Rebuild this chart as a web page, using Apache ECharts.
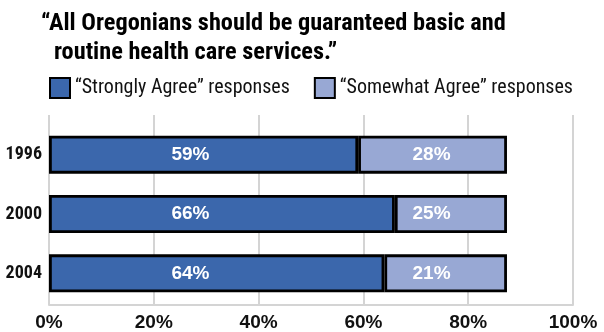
<!DOCTYPE html>
<html>
<head>
<meta charset="utf-8">
<script src="https://cdn.jsdelivr.net/npm/echarts@6/dist/echarts.min.js"></script>
<style>
html,body{margin:0;padding:0;background:#fff;}
#chart{width:604px;height:332px;}
</style>
</head>
<body>
<div id="chart"></div>
<script>
// ---- data ----
const years = ['1996', '2000', '2004'];
const stronglyAgree = [59, 66, 64];            // drawn & labelled
const somewhatAgreeDrawn = [28.4, 21.4, 23.4]; // segment lengths as drawn in the original
const somewhatAgreeLabel = [28, 25, 21];       // values printed on the segments
const xTicks = [0, 20, 40, 60, 80, 100];
const seriesNames = ['\u201CStrongly Agree\u201D responses', '\u201CSomewhat Agree\u201D responses'];
const titleLines = ['\u201CAll Oregonians should be guaranteed basic and', 'routine health care services.\u201D'];

// ---- label placement (style, axis units) ----
const labelPos = { strong: 27, somewhat: 73 };

const dark = '#3b67ac';
const light = '#98a8d4';
const narrow = '"Roboto Condensed", "DejaVu Sans Condensed", sans-serif';
const wide = '"Liberation Sans", Arial, sans-serif';

const chart = echarts.init(document.getElementById('chart'), null, { renderer: 'canvas' });

chart.setOption({
  animation: false,
  backgroundColor: '#ffffff',
  title: [
    { text: titleLines[0], left: 41, top: 12, padding: 0,
      textStyle: { fontFamily: narrow, fontWeight: 'bold', fontSize: 24.3, color: '#000' } },
    { text: titleLines[1], left: 54, top: 41, padding: 0,
      textStyle: { fontFamily: narrow, fontWeight: 'bold', fontSize: 24.3, color: '#000' } }
  ],
  legend: {
    left: 49, top: 77, padding: 0, width: 560,
    itemWidth: 20, itemHeight: 20, itemGap: 24,
    icon: 'rect',
    textStyle: { fontFamily: narrow, fontSize: 20, color: '#111' },
    data: seriesNames
  },
  grid: [
    { left: 49, right: 31, top: 125, bottom: 29, outerBoundsMode: 'none', containLabel: false },
    { left: 49, right: 31, top: 115, bottom: 27, outerBoundsMode: 'none', containLabel: false }
  ],
  xAxis: [
    { gridIndex: 0, type: 'value', min: 0, max: 100, show: false },
    { gridIndex: 1, type: 'value', min: 0, max: 100, interval: 20,
      axisLine: { show: true, lineStyle: { color: '#d4d4d4', width: 2 } },
      axisTick: { show: false },
      splitLine: { show: true, lineStyle: { color: '#d4d4d4', width: 2 } },
      axisLabel: { margin: 8, fontFamily: wide, fontWeight: 'bold', fontSize: 19, color: '#111',
        formatter: v => xTicks.includes(v) ? v + '%' : '' } }
  ],
  yAxis: [
    { gridIndex: 0, type: 'category', data: years, inverse: true,
      axisLine: { show: false }, axisTick: { show: false }, splitLine: { show: false },
      axisLabel: { margin: 7, fontFamily: narrow, fontWeight: 'bold', fontSize: 18, color: '#111' } },
    { gridIndex: 1, type: 'category', data: years, show: false }
  ],
  series: [
    { name: seriesNames[0], type: 'bar', stack: 'total', xAxisIndex: 0, yAxisIndex: 0,
      data: stronglyAgree, barWidth: 38,
      itemStyle: { color: dark, borderColor: '#000', borderWidth: 2.8 } },
    { name: seriesNames[1], type: 'bar', stack: 'total', xAxisIndex: 0, yAxisIndex: 0,
      data: somewhatAgreeDrawn, barWidth: 38,
      itemStyle: { color: light, borderColor: '#000', borderWidth: 2.8 } },
    { type: 'scatter', xAxisIndex: 0, yAxisIndex: 0, symbolSize: 0, silent: true, z: 5,
      itemStyle: { opacity: 1 },
      data: years.map((y, i) => [labelPos.strong, y, stronglyAgree[i]]),
      label: { show: true, position: 'inside', formatter: p => p.data[2] + '%',
        fontFamily: wide, fontWeight: 'bold', fontSize: 19, color: '#fff' } },
    { type: 'scatter', xAxisIndex: 0, yAxisIndex: 0, symbolSize: 0, silent: true, z: 5,
      itemStyle: { opacity: 1 },
      data: years.map((y, i) => [labelPos.somewhat, y, somewhatAgreeLabel[i]]),
      label: { show: true, position: 'inside', formatter: p => p.data[2] + '%',
        fontFamily: wide, fontWeight: 'bold', fontSize: 19, color: '#fff' } }
  ]
});
</script>
</body>
</html>
